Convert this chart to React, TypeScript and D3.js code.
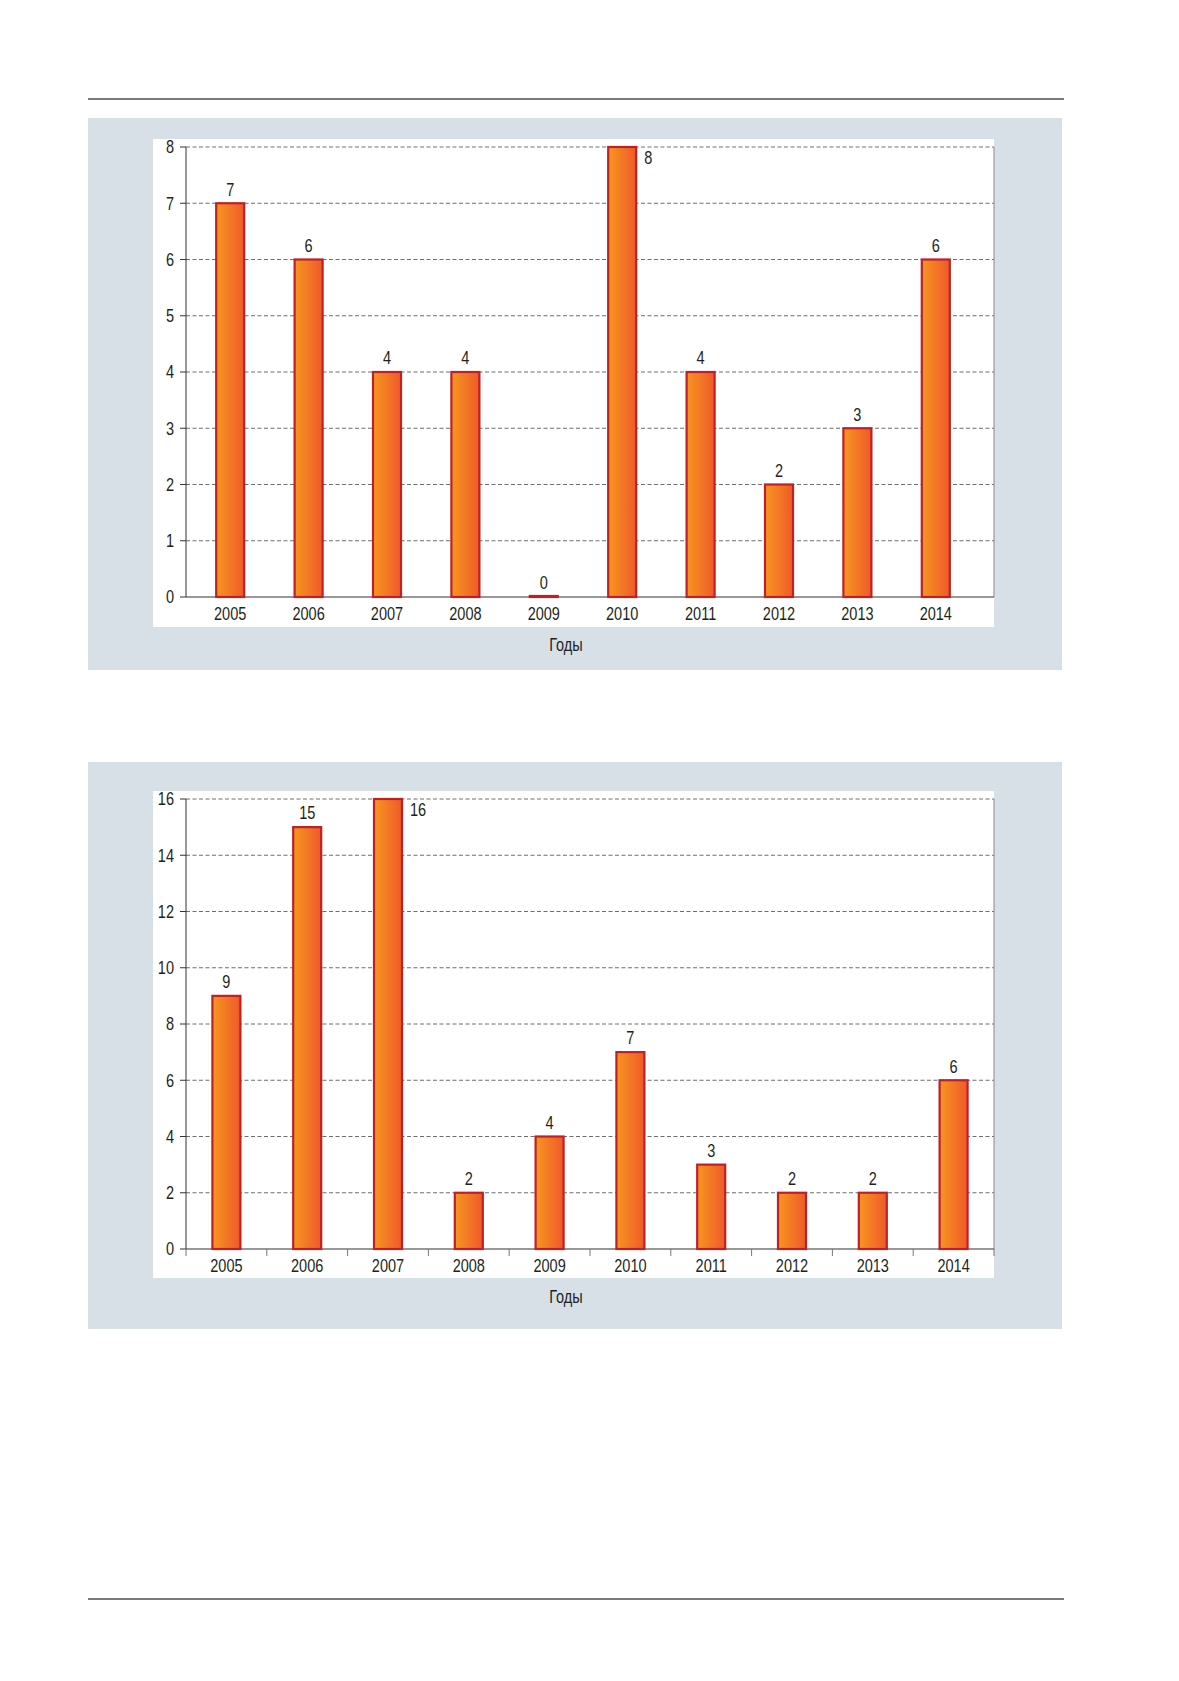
import React from "react";
import * as d3 from "d3";

const years = ["2005", "2006", "2007", "2008", "2009", "2010", "2011", "2012", "2013", "2014"];
const valuesA = [7, 6, 4, 4, 0, 8, 4, 2, 3, 6];
const valuesB = [9, 15, 16, 2, 4, 7, 3, 2, 2, 6];
const ticksA = [0, 1, 2, 3, 4, 5, 6, 7, 8];
const ticksB = [0, 2, 4, 6, 8, 10, 12, 14, 16];
const axisTitle = "Годы";

const FONT = "'Liberation Sans', Arial, sans-serif";
const TEXT = "#231f20";

function T(props: { x: number; y: number; anchor?: "start" | "middle" | "end"; children: React.ReactNode }) {
  return (
    <text
      transform={`translate(${props.x},${props.y}) scale(0.83,1)`}
      dy="0.36em"
      textAnchor={props.anchor || "middle"}
      fontSize={17.5}
      fill={TEXT}
      fontFamily={FONT}
    >
      {props.children}
    </text>
  );
}

type PanelProps = {
  id: string;
  values: number[];
  ticks: number[];
  panelTop: number;
  panelBottom: number;
  whiteTop: number;
  whiteBottom: number;
  yTop: number;
  y0: number;
  xRange: [number, number];
  xTicks: boolean;
};

function Panel(p: PanelProps) {
  const yMax = d3.max(p.ticks) as number;
  const y = d3.scaleLinear().domain([0, yMax]).range([p.y0, p.yTop]);
  const x = d3.scaleBand<string>().domain(years).range(p.xRange).paddingInner(0).paddingOuter(0);
  const axisX = 186;
  const rightX = 994;
  const barW = 28;
  const bw = x.bandwidth();
  return (
    <g>
      <rect x={88} y={p.panelTop} width={974} height={p.panelBottom - p.panelTop} fill="#d8e0e7" />
      <rect x={153} y={p.whiteTop} width={rightX - 153} height={p.whiteBottom - p.whiteTop} fill="#ffffff" />
      {p.ticks.map((t) => (
        <g key={t}>
          {t > 0 && (
            <line x1={axisX} x2={rightX} y1={y(t)} y2={y(t)} stroke="#6e6e6e" strokeWidth={1} strokeDasharray="4 2.5" />
          )}
          <line x1={axisX - 6} x2={axisX} y1={y(t)} y2={y(t)} stroke="#333" strokeWidth={1} />
          <T x={174} y={y(t)} anchor="end">
            {t}
          </T>
        </g>
      ))}
      <line x1={rightX} x2={rightX} y1={p.yTop} y2={p.y0} stroke="#8a8a8a" strokeWidth={1} />
      <line x1={axisX} x2={axisX} y1={p.yTop} y2={p.y0} stroke="#333" strokeWidth={1} />
      <line x1={axisX} x2={rightX} y1={p.y0} y2={p.y0} stroke="#333" strokeWidth={1.2} />
      {p.xTicks &&
        [...years.map((yr) => x(yr) as number), p.xRange[1]].map((tx, i) => (
          <line key={i} x1={tx} x2={tx} y1={p.y0} y2={p.y0 + 7} stroke="#777" strokeWidth={1} />
        ))}
      {p.values.map((v, i) => {
        const cx = (x(years[i]) as number) + bw / 2;
        const top = y(v);
        const h = Math.max(p.y0 - top, 1);
        const atMax = v === yMax;
        return (
          <g key={years[i]}>
            <rect
              x={cx - barW / 2}
              y={p.y0 - h}
              width={barW}
              height={h}
              fill={`url(#grad-${p.id})`}
              stroke="#c01f27"
              strokeWidth={2.2}
            />
            <T x={atMax ? cx + barW / 2 + 8 : cx} y={atMax ? top + 11 : top - 14} anchor={atMax ? "start" : "middle"}>
              {v}
            </T>
          </g>
        );
      })}
      {years.map((yr) => (
        <T key={yr} x={(x(yr) as number) + bw / 2} y={p.y0 + 17}>
          {yr}
        </T>
      ))}
      <T x={566} y={p.y0 + 48}>
        {axisTitle}
      </T>
    </g>
  );
}

export default function App() {
  return (
    <svg
      width={1179}
      height={1681}
      viewBox="0 0 1179 1681"
      style={{ position: "absolute", left: 0, top: 0, background: "#ffffff" }}
    >
      <defs>
        {["a", "b"].map((id) => (
          <linearGradient key={id} id={`grad-${id}`} x1="0" x2="1" y1="0" y2="0">
            <stop offset="0%" stopColor="#f7961f" />
            <stop offset="100%" stopColor="#ee5a2a" />
          </linearGradient>
        ))}
      </defs>
      <rect x={0} y={0} width={1179} height={1681} fill="#ffffff" />
      <line x1={88} x2={1064} y1={99} y2={99} stroke="#7a7a7a" strokeWidth={2} />
      <Panel
        id="a"
        values={valuesA}
        ticks={ticksA}
        panelTop={118}
        panelBottom={670}
        whiteTop={139}
        whiteBottom={627}
        yTop={147}
        y0={597}
        xRange={[191, 975]}
        xTicks={false}
      />
      <Panel
        id="b"
        values={valuesB}
        ticks={ticksB}
        panelTop={762}
        panelBottom={1329}
        whiteTop={791}
        whiteBottom={1278}
        yTop={799}
        y0={1249}
        xRange={[186, 994]}
        xTicks={true}
      />
      <line x1={88} x2={1064} y1={1599} y2={1599} stroke="#7a7a7a" strokeWidth={2} />
    </svg>
  );
}
